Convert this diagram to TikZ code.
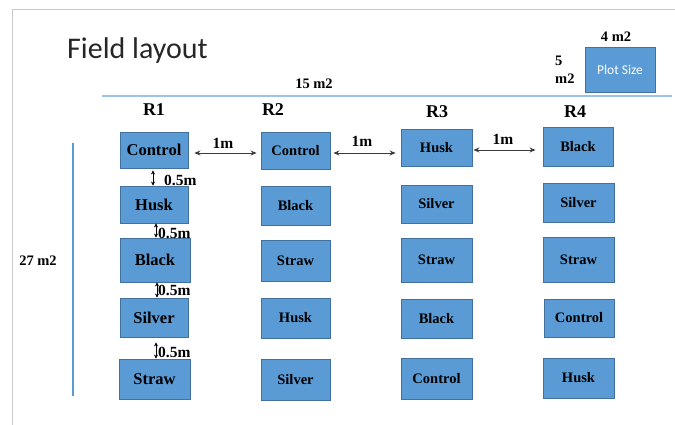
\documentclass[tikz,border=0pt]{standalone}
\usepackage{fontspec}
\setmainfont{Liberation Serif}
\newfontfamily\calfont{Carlito}
\usetikzlibrary{arrows.meta}
\definecolor{boxfill}{HTML}{5B9BD5}
\definecolor{boxline}{HTML}{41719C}
\definecolor{rule}{HTML}{9DC3E6}
\definecolor{frame}{HTML}{C8C8C8}
\definecolor{arrgray}{HTML}{3A3A3A}
\begin{document}
\begin{tikzpicture}[x=1pt,y=-1pt,
  plot/.style={draw=boxline,fill=boxfill,line width=0.9pt,inner sep=0pt,minimum width=70pt,minimum height=39pt},
  big/.style={font=\fontsize{16.5}{18}\selectfont\bfseries},
  small/.style={font=\fontsize{14.5}{16}\selectfont\bfseries},
  lbl/.style={font=\fontsize{15.5}{17}\selectfont\bfseries,inner sep=0pt},
  harr/.style={arrgray,line width=0.9pt,{Stealth[length=6pt,width=5pt,inset=2pt]}-{Stealth[length=6pt,width=5pt,inset=2pt]}},
  varr/.style={black,line width=1pt,{Stealth[length=4pt,width=4pt]}-{Stealth[length=4pt,width=4pt]}}]
\useasboundingbox (0,0) rectangle (675,425);
% frame
\draw[frame,line width=1pt] (12,425) -- (12,10) -- (675,10);
% title
\node[anchor=base west,inner sep=0pt,font=\calfont\fontsize{30}{32}\selectfont,text=black!85] (title) at (67,59) {Field layout};
% top rule
\draw[rule,line width=2pt] (102,96) -- (672,96);
\node[lbl,font=\fontsize{14.5}{16}\selectfont\bfseries] (w15) at (314,84) {15 m2};
% plot size
\node[plot,minimum width=70pt,minimum height=45pt,text=white,font=\calfont\fontsize{13.5}{15}\selectfont] (ps) at (620,69.5) {Plot Size};
\node[lbl,font=\fontsize{14.5}{16}\selectfont\bfseries] (w4) at (616,37) {4 m2};
\node[lbl,font=\fontsize{14.5}{18}\selectfont\bfseries,anchor=west,align=left] (h5) at (555,70) {5\\m2};
% rep labels
\node[lbl,font=\fontsize{18}{20}\selectfont\bfseries] (R1) at (154,110) {R1};
\node[lbl,font=\fontsize{18}{20}\selectfont\bfseries] (R2) at (273,110) {R2};
\node[lbl,font=\fontsize{18}{20}\selectfont\bfseries] (R3) at (437,112) {R3};
\node[lbl,font=\fontsize{18}{20}\selectfont\bfseries] (R4) at (575,112) {R4};
% left rule
\draw[boxfill,line width=1.2pt] (73,143) -- (73,396);
\node[lbl,font=\fontsize{14.5}{16}\selectfont\bfseries] (h27) at (38,261) {27 m2};
% R1
\node[plot,big,minimum width=68pt,minimum height=36pt] (a1) at (154,150) {Control};
\node[plot,big,minimum width=68pt,minimum height=37pt] (a2) at (154,204.5) {Husk};
\node[plot,big,minimum width=70pt,minimum height=44pt] (a3) at (155,260) {Black};
\node[plot,big,minimum width=68pt,minimum height=39pt] (a4) at (154,317.5) {Silver};
\node[plot,big,minimum width=71pt,minimum height=40pt] (a5) at (154.5,379) {Straw};
% R2
\node[plot,small,minimum width=69pt,minimum height=37pt] (b1) at (295.5,150.5) {Control};
\node[plot,small,minimum width=69pt,minimum height=39pt] (b2) at (295.5,205.5) {Black};
\node[plot,small,minimum width=69pt,minimum height=41pt] (b3) at (295.5,260.5) {Straw};
\node[plot,small,minimum width=69pt,minimum height=40pt] (b4) at (295.5,318) {Husk};
\node[plot,small,minimum width=69pt,minimum height=41pt] (b5) at (295.5,379.5) {Silver};
% R3
\node[plot,small,minimum width=71pt,minimum height=37pt] (c1) at (436.5,147.5) {Husk};
\node[plot,small,minimum width=71pt,minimum height=38pt] (c2) at (436.5,204) {Silver};
\node[plot,small,minimum width=71pt,minimum height=44pt] (c3) at (436.5,260) {Straw};
\node[plot,small,minimum width=71pt,minimum height=39pt] (c4) at (436.5,318.5) {Black};
\node[plot,small,minimum width=71pt,minimum height=41pt] (c5) at (436.5,378.5) {Control};
% R4
\node[plot,small,minimum width=70pt,minimum height=39pt] (d1) at (578,146.5) {Black};
\node[plot,small,minimum width=71pt,minimum height=39pt] (d2) at (578.5,202.5) {Silver};
\node[plot,small,minimum width=71pt,minimum height=45pt] (d3) at (578.5,259.5) {Straw};
\node[plot,small,minimum width=70pt,minimum height=38pt] (d4) at (579,318) {Control};
\node[plot,small,minimum width=71pt,minimum height=40pt] (d5) at (578.5,378) {Husk};
% horizontal arrows
\draw[harr,shorten <=6pt,shorten >=4pt] ([yshift=-3pt]a1.east) -- ([yshift=-3pt]a1.east -| b1.west);
\draw[harr,shorten <=3pt,shorten >=5pt] ([yshift=-2.5pt]b1.east) -- ([yshift=-2.5pt]b1.east -| c1.west);
\draw[harr,shorten <=1pt,shorten >=7pt] ([yshift=-2.5pt]c1.east) -- ([yshift=-2.5pt]c1.east -| d1.west);
\node[lbl] (m1) at (223,143) {1m};
\node[lbl] (m2) at (362,141) {1m};
\node[lbl] (m3) at (503,139) {1m};
% vertical arrows
\draw[varr,shorten <=2pt] ([xshift=-1pt]a1.south) -- ([xshift=-1pt]a1.south |- a2.north);
\draw[varr] ([xshift=2pt]a2.south) -- ([xshift=2pt]a2.south |- a3.north);
\draw[varr] ([xshift=2pt]a3.south) -- ([xshift=2pt]a3.south |- a4.north);
\draw[varr,shorten <=5pt] ([xshift=2pt]a4.south) -- ([xshift=2pt]a4.south |- a5.north);
\node[lbl,anchor=west] (g1) at (164,180) {0.5m};
\node[lbl,anchor=west] (g2) at (158,233) {0.5m};
\node[lbl,anchor=west] (g3) at (158,290) {0.5m};
\node[lbl,anchor=west] (g4) at (158,352) {0.5m};
\end{tikzpicture}
\end{document}
